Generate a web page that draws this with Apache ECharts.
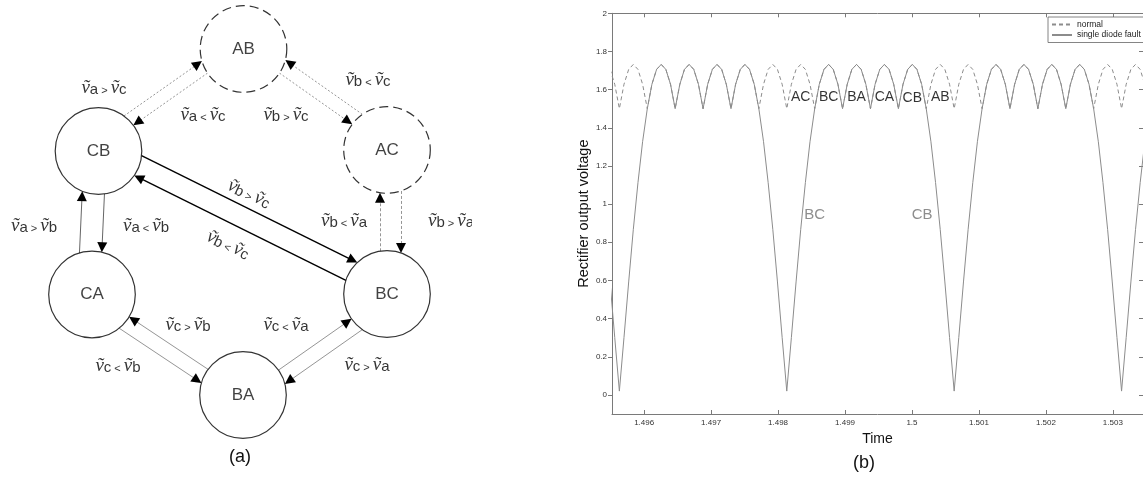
<!DOCTYPE html>
<html>
<head>
<meta charset="utf-8">
<title>Rectifier conduction states and output voltage</title>
<script src="https://cdn.jsdelivr.net/npm/echarts@6/dist/echarts.min.js"></script>
<style>
  html, body { margin: 0; padding: 0; background: #fff; }
  #main { width: 1143px; height: 480px; }
</style>
</head>
<body>
<div id="main"></div>
<script>
// ---------- (b) rectifier output voltage ----------
var time = [
  1.495491, 1.495561,
  1.495630, 1.495699, 1.495769, 1.495838, 1.495908, 1.495977, 1.496047, 1.496116, 1.496186, 1.496255, 1.496324, 1.496394,
  1.496463, 1.496533, 1.496602, 1.496672, 1.496741, 1.496811, 1.496880, 1.496949, 1.497019, 1.497088, 1.497158, 1.497227,
  1.497297, 1.497366, 1.497436, 1.497505, 1.497574, 1.497644, 1.497713, 1.497783, 1.497852, 1.497922, 1.497991, 1.498061,
  1.498130, 1.498199, 1.498269, 1.498338, 1.498408, 1.498477, 1.498547, 1.498616, 1.498686, 1.498755, 1.498824, 1.498894,
  1.498963, 1.499033, 1.499102, 1.499172, 1.499241, 1.499311, 1.499380, 1.499449, 1.499519, 1.499588, 1.499658, 1.499727,
  1.499797, 1.499866, 1.499936, 1.500005, 1.500074, 1.500144, 1.500213, 1.500283, 1.500352, 1.500422, 1.500491, 1.500561,
  1.500630, 1.500699, 1.500769, 1.500838, 1.500908, 1.500977, 1.501047, 1.501116, 1.501186, 1.501255, 1.501324, 1.501394,
  1.501463, 1.501533, 1.501602, 1.501672, 1.501741, 1.501811, 1.501880, 1.501949, 1.502019, 1.502088, 1.502158, 1.502227,
  1.502297, 1.502366, 1.502436, 1.502505, 1.502574, 1.502644, 1.502713, 1.502783, 1.502852, 1.502922, 1.502991, 1.503061,
  1.503130, 1.503199, 1.503269, 1.503338, 1.503408, 1.503477
];
var normal = [
  1.706, 1.628,
  1.5, 1.628, 1.706, 1.732, 1.706, 1.628, 1.5, 1.628, 1.706, 1.732, 1.706, 1.628,
  1.5, 1.628, 1.706, 1.732, 1.706, 1.628, 1.5, 1.628, 1.706, 1.732, 1.706, 1.628,
  1.5, 1.628, 1.706, 1.732, 1.706, 1.628, 1.5, 1.628, 1.706, 1.732, 1.706, 1.628,
  1.5, 1.628, 1.706, 1.732, 1.706, 1.628, 1.5, 1.628, 1.706, 1.732, 1.706, 1.628,
  1.5, 1.628, 1.706, 1.732, 1.706, 1.628, 1.5, 1.628, 1.706, 1.732, 1.706, 1.628,
  1.5, 1.628, 1.706, 1.732, 1.706, 1.628, 1.5, 1.628, 1.706, 1.732, 1.706, 1.628,
  1.5, 1.628, 1.706, 1.732, 1.706, 1.628, 1.5, 1.628, 1.706, 1.732, 1.706, 1.628,
  1.5, 1.628, 1.706, 1.732, 1.706, 1.628, 1.5, 1.628, 1.706, 1.732, 1.706, 1.628,
  1.5, 1.628, 1.706, 1.732, 1.706, 1.628, 1.5, 1.628, 1.706, 1.732, 1.706, 1.628,
  1.5, 1.628, 1.706, 1.732, 1.706, 1.628
];
var fault = [
  0.592, 0.301,
  0.02, 0.301, 0.592, 0.866, 1.113, 1.327, 1.5, 1.628, 1.706, 1.732, 1.706, 1.628,
  1.5, 1.628, 1.706, 1.732, 1.706, 1.628, 1.5, 1.628, 1.706, 1.732, 1.706, 1.628,
  1.5, 1.628, 1.706, 1.732, 1.706, 1.628, 1.5, 1.327, 1.113, 0.866, 0.592, 0.301,
  0.02, 0.301, 0.592, 0.866, 1.113, 1.327, 1.5, 1.628, 1.706, 1.732, 1.706, 1.628,
  1.5, 1.628, 1.706, 1.732, 1.706, 1.628, 1.5, 1.628, 1.706, 1.732, 1.706, 1.628,
  1.5, 1.628, 1.706, 1.732, 1.706, 1.628, 1.5, 1.327, 1.113, 0.866, 0.592, 0.301,
  0.02, 0.301, 0.592, 0.866, 1.113, 1.327, 1.5, 1.628, 1.706, 1.732, 1.706, 1.628,
  1.5, 1.628, 1.706, 1.732, 1.706, 1.628, 1.5, 1.628, 1.706, 1.732, 1.706, 1.628,
  1.5, 1.628, 1.706, 1.732, 1.706, 1.628, 1.5, 1.327, 1.113, 0.866, 0.592, 0.301,
  0.02, 0.301, 0.592, 0.866, 1.113, 1.327
];
var xTicks = [1.496, 1.497, 1.498, 1.499, 1.5, 1.501, 1.502, 1.503];
var yTicks = [0, 0.2, 0.4, 0.6, 0.8, 1, 1.2, 1.4, 1.6, 1.8, 2];

// conduction pair written over each pulse, and the two pairs in the dips
var arcNames = ['AC', 'BC', 'BA', 'CA', 'CB', 'AB'];
var arcTimes = [1.498338, 1.498755, 1.499172, 1.499588, 1.500005, 1.500422];
var arcLevel = [1.563, 1.563, 1.563, 1.563, 1.555, 1.563];
var dipNames = ['BC', 'CB'];
var dipTimes = [1.498545, 1.500151];
var dipLevel = [0.943, 0.943];

// ---------- (a) state diagram ----------
var states = ['AB', 'CB', 'AC', 'CA', 'BC', 'BA'];
var dashedStates = ['AB', 'AC'];
// from, to, condition (lhs, op, rhs)
var transitions = [
  ['CB', 'AB', 'a', '>', 'c'],
  ['AB', 'CB', 'a', '<', 'c'],
  ['AB', 'AC', 'b', '>', 'c'],
  ['AC', 'AB', 'b', '<', 'c'],
  ['AC', 'BC', 'b', '>', 'a'],
  ['BC', 'AC', 'b', '<', 'a'],
  ['CB', 'BC', 'b', '>', 'c'],
  ['BC', 'CB', 'b', '<', 'c'],
  ['CA', 'CB', 'a', '>', 'b'],
  ['CB', 'CA', 'a', '<', 'b'],
  ['BA', 'CA', 'c', '>', 'b'],
  ['CA', 'BA', 'c', '<', 'b'],
  ['BA', 'BC', 'c', '<', 'a'],
  ['BC', 'BA', 'c', '>', 'a']
];

// layout of the diagram, in pixels of the left panel
var statePos = {
  AB: [243.5, 49], CB: [98.5, 151], AC: [387, 150],
  CA: [92, 294.5], BC: [387, 294], BA: [243, 395]
};
var R = 43.3, HEAD = 10;
var edgeOffset = [-14, 1, -1, 15, -14, -7, -15, -6, -14.4, -7.9, 2, 13, 0, -15];
var edgeKind = ['dot', 'dot', 'dot', 'dot', 'dash', 'dash', 'bold', 'bold', 'thin', 'thin', 'fine', 'fine', 'fine', 'fine'];
var edgeLabelPos = [
  [104, 88], [203, 115], [286, 115], [368, 80], [451, 221], [344, 221], [249, 194],
  [228, 245], [34, 226], [146, 226], [188, 325], [118, 366], [286, 325], [367, 365]
];
var edgeLabelRot = [0, 0, 0, 0, 0, 0, -25, -25, 0, 0, 0, 0, 0, 0];

var kindStyle = {
  dot: { color: '#8a8a8a', width: 0.9, type: [2, 2], opacity: 1 },
  dash: { color: '#8a8a8a', width: 0.9, type: [3, 2], opacity: 1 },
  bold: { color: '#000', width: 1.4, type: 'solid', opacity: 1 },
  thin: { color: '#666', width: 1, type: 'solid', opacity: 1 },
  fine: { color: '#7a7a7a', width: 0.8, type: 'solid', opacity: 1 }
};

var sans = "'Liberation Sans', Arial, sans-serif";

var edgeLines = [], edgeHeads = [], edgeLabels = [];
transitions.forEach(function (t, i) {
  var P = statePos[t[0]], Q = statePos[t[1]], s = edgeOffset[i];
  var dx = Q[0] - P[0], dy = Q[1] - P[1], L = Math.sqrt(dx * dx + dy * dy);
  var ux = dx / L, uy = dy / L, nx = -uy, ny = ux;
  var h = Math.sqrt(R * R - s * s);
  var a = [P[0] + nx * s + ux * h, P[1] + ny * s + uy * h];
  var tip = [Q[0] + nx * s - ux * h, Q[1] + ny * s - uy * h];
  var back = [tip[0] - ux * HEAD / 2, tip[1] - uy * HEAD / 2];
  edgeLines.push({ coords: [a, back], lineStyle: kindStyle[edgeKind[i]] });
  edgeHeads.push({ coords: [[back[0] - ux, back[1] - uy], back] });
  edgeLabels.push({
    value: edgeLabelPos[i],
    text: '{v|ṽ}{s|' + t[2] + '}{o|' + t[3] + '}{v|ṽ}{s|' + t[4] + '}',
    label: { rotate: edgeLabelRot[i] }
  });
});

var chart = echarts.init(document.getElementById('main'));

var tickFont = { fontSize: 8, color: '#333', fontFamily: sans };
var axisGray = '#7a7a7a';

chart.setOption({
  animation: false,
  backgroundColor: '#fff',
  grid: [
    { left: 612, right: 0, top: 13.3, bottom: 66, outerBoundsMode: 'none' },
    { left: 0, top: 0, width: 560, height: 480, outerBoundsMode: 'none' }
  ],
  legend: {
    data: ['normal', 'single diode fault'],
    orient: 'vertical',
    left: 1048,
    top: 17,
    itemWidth: 20,
    itemHeight: 2,
    itemGap: 1.5,
    padding: [3, 8, 3, 3],
    backgroundColor: '#fff',
    borderColor: '#666',
    borderWidth: 0.8,
    borderRadius: 0,
    itemStyle: { opacity: 0 },
    textStyle: { fontSize: 8.5, color: '#222', fontFamily: sans }
  },
  xAxis: [
    {
      type: 'value', gridIndex: 0, min: 1.49552, max: 1.50345,
      name: 'Time', nameLocation: 'middle', nameGap: 12,
      nameTextStyle: { fontSize: 14, color: '#111', fontFamily: sans },
      axisLine: { onZero: false, lineStyle: { color: axisGray, width: 1 } },
      axisTick: { inside: true, length: 4, customValues: xTicks, lineStyle: { color: axisGray } },
      axisLabel: Object.assign({ customValues: xTicks, margin: 5, formatter: function (v) { return String(Math.round(v * 1000) / 1000); } }, tickFont),
      splitLine: { show: false }
    },
    {
      type: 'value', gridIndex: 0, min: 1.49552, max: 1.50345, position: 'top',
      axisLine: { onZero: false, lineStyle: { color: axisGray, width: 1 } },
      axisTick: { inside: true, length: 4, customValues: xTicks, lineStyle: { color: axisGray } },
      axisLabel: { show: false },
      splitLine: { show: false }
    },
    { type: 'value', gridIndex: 1, min: 0, max: 560, show: false }
  ],
  yAxis: [
    {
      type: 'value', gridIndex: 0, min: -0.1, max: 2,
      name: 'Rectifier output voltage', nameLocation: 'middle', nameGap: 16,
      nameTextStyle: { fontSize: 14.5, color: '#111', fontFamily: sans },
      axisLine: { onZero: false, lineStyle: { color: axisGray, width: 1 } },
      axisTick: { inside: false, length: 4, customValues: yTicks, lineStyle: { color: axisGray } },
      axisLabel: Object.assign({ customValues: yTicks, margin: 5, formatter: function (v) { return String(Math.round(v * 10) / 10); } }, tickFont),
      splitLine: { show: false }
    },
    {
      type: 'value', gridIndex: 0, min: -0.1, max: 2, position: 'right',
      axisLine: { onZero: false, lineStyle: { color: axisGray, width: 1 } },
      axisTick: { inside: true, length: 4, customValues: yTicks, lineStyle: { color: axisGray } },
      axisLabel: { show: false },
      splitLine: { show: false }
    },
    { type: 'value', gridIndex: 1, min: 0, max: 480, inverse: true, show: false }
  ],
  graphic: [
    { type: 'rect', shape: { x: 472, y: 205, width: 70, height: 36 }, style: { fill: '#fff' }, z: 100 },
    { type: 'text', x: 240, y: 457, style: { text: '(a)', font: '18px ' + sans, fill: '#111', align: 'center', verticalAlign: 'middle' } },
    { type: 'text', x: 864, y: 463, style: { text: '(b)', font: '18px ' + sans, fill: '#111', align: 'center', verticalAlign: 'middle' } }
  ],
  series: [
    {
      name: 'normal', type: 'line', xAxisIndex: 0, yAxisIndex: 0,
      data: time.map(function (t, i) { return [t, normal[i]]; }),
      symbol: 'none', showSymbol: false, silent: true,
      lineStyle: { color: '#8c8c8c', width: 1, type: [4, 3] },
      itemStyle: { color: '#8c8c8c' }, z: 2
    },
    {
      name: 'single diode fault', type: 'line', xAxisIndex: 0, yAxisIndex: 0,
      data: time.map(function (t, i) { return [t, fault[i]]; }),
      symbol: 'none', showSymbol: false, silent: true,
      lineStyle: { color: '#8c8c8c', width: 1, type: 'solid' },
      itemStyle: { color: '#8c8c8c' }, z: 3
    },
    {
      type: 'scatter', xAxisIndex: 0, yAxisIndex: 0, silent: true, z: 4,
      symbolSize: 1, itemStyle: { color: 'rgba(0,0,0,0)' },
      data: arcNames.map(function (n, i) { return { name: n, value: [arcTimes[i], arcLevel[i]] }; }),
      label: { show: true, position: 'inside', formatter: '{b}', fontSize: 14, color: '#000', fontFamily: sans }
    },
    {
      type: 'scatter', xAxisIndex: 0, yAxisIndex: 0, silent: true, z: 4,
      symbolSize: 1, itemStyle: { color: 'rgba(0,0,0,0)' },
      data: dipNames.map(function (n, i) { return { name: n, value: [dipTimes[i], dipLevel[i]] }; }),
      label: { show: true, position: 'inside', formatter: '{b}', fontSize: 15, color: '#707070', fontFamily: sans }
    },
    {
      type: 'lines', coordinateSystem: 'cartesian2d', xAxisIndex: 2, yAxisIndex: 2,
      silent: true, z: 2, symbol: 'none',
      lineStyle: { opacity: 1 },
      data: edgeLines
    },
    {
      type: 'lines', coordinateSystem: 'cartesian2d', xAxisIndex: 2, yAxisIndex: 2,
      silent: true, z: 3, symbol: ['none', 'triangle'], symbolSize: HEAD,
      lineStyle: { color: '#000', width: 1, opacity: 1 },
      data: edgeHeads
    },
    {
      type: 'scatter', xAxisIndex: 2, yAxisIndex: 2, silent: true, z: 4,
      symbol: 'circle', symbolSize: 2 * R,
      itemStyle: { color: '#fff', borderColor: '#000', borderWidth: 1.2 },
      data: states.map(function (s) {
        var dashed = dashedStates.indexOf(s) >= 0;
        return { name: s, value: statePos[s], itemStyle: { borderType: dashed ? [9, 5] : 'solid' } };
      }),
      label: { show: true, position: 'inside', formatter: '{b}', fontSize: 17, color: '#111', fontFamily: sans }
    },
    {
      type: 'scatter', xAxisIndex: 2, yAxisIndex: 2, silent: true, z: 5,
      symbolSize: 1, itemStyle: { color: 'rgba(0,0,0,0)' },
      data: edgeLabels,
      label: {
        show: true, position: 'inside',
        formatter: function (p) { return p.data.text; },
        rich: {
          v: { fontFamily: "'Liberation Serif', 'DejaVu Serif', serif", fontStyle: 'italic', fontSize: 19, color: '#000', verticalAlign: 'bottom' },
          s: { fontFamily: sans, fontSize: 15, color: '#000', verticalAlign: 'bottom' },
          o: { fontFamily: sans, fontSize: 11, color: '#000', padding: [0, 3, 1, 3], verticalAlign: 'bottom' }
        }
      }
    }
  ]
});
</script>
</body>
</html>
